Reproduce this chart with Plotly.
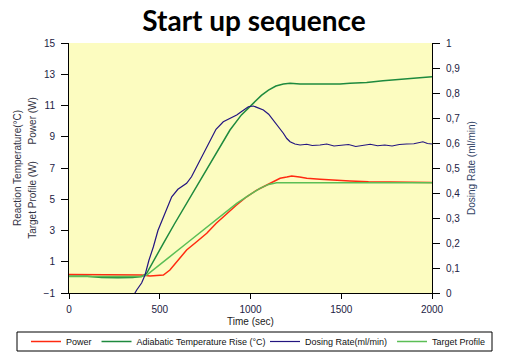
import plotly.graph_objects as go

# ---------------- data ----------------
power_t = [0, 100, 200, 300, 400, 446, 520, 556, 600, 648, 700, 759, 810, 869, 920, 979, 1030, 1071, 1120, 1163, 1200, 1227, 1270, 1310, 1383, 1450, 1548, 1650, 1730, 1850, 2000]
power_v = [0.18, 0.18, 0.17, 0.17, 0.15, 0.09, 0.15, 0.47, 1.05, 1.75, 2.25, 2.82, 3.45, 4.1, 4.6, 5.16, 5.55, 5.8, 6.1, 6.34, 6.42, 6.49, 6.42, 6.34, 6.28, 6.22, 6.17, 6.12, 6.1, 6.08, 6.07]

adiab_t = [0, 100, 180, 270, 350, 400, 428, 470, 520, 580, 648, 700, 759, 820, 887, 950, 1016, 1060, 1099, 1140, 1181, 1218, 1273, 1380, 1493, 1548, 1640, 1730, 1850, 2000]
adiab_v = [0.08, 0.07, 0.0, -0.03, 0.0, 0.05, 0.26, 1.1, 2.18, 3.4, 4.74, 5.75, 6.87, 8.1, 9.43, 10.4, 11.14, 11.65, 11.99, 12.25, 12.38, 12.42, 12.38, 12.36, 12.38, 12.42, 12.48, 12.59, 12.68, 12.84]

dose_t = [340, 373, 400, 419, 440, 465, 490, 520, 545, 566, 600, 648, 675, 704, 740, 777, 810, 850, 890, 924, 955, 988, 1016, 1045, 1071, 1100, 1126, 1155, 1181, 1200, 1218, 1245, 1273, 1310, 1340, 1383, 1420, 1460, 1500, 1540, 1580, 1620, 1660, 1700, 1740, 1780, 1820, 1860, 1900, 1950, 1975, 2000]
dose_v = [-0.03, 0.012, 0.04, 0.072, 0.13, 0.185, 0.25, 0.305, 0.35, 0.385, 0.415, 0.439, 0.465, 0.505, 0.56, 0.612, 0.655, 0.685, 0.7, 0.712, 0.728, 0.745, 0.748, 0.74, 0.732, 0.715, 0.692, 0.665, 0.639, 0.618, 0.605, 0.596, 0.592, 0.595, 0.59, 0.592, 0.596, 0.588, 0.59, 0.594, 0.586, 0.59, 0.595, 0.589, 0.592, 0.588, 0.594, 0.596, 0.597, 0.605, 0.598, 0.596]

target_t = [0, 100, 200, 300, 400, 428, 490, 556, 650, 740, 830, 924, 990, 1052, 1100, 1144, 1180, 1300, 1500, 1700, 2000]
target_v = [0.05, 0.05, 0.05, 0.05, 0.05, 0.15, 0.7, 1.33, 2.2, 3.03, 3.9, 4.74, 5.25, 5.7, 5.95, 6.05, 6.05, 6.05, 6.05, 6.05, 6.05]

x_ticks = [0, 500, 1000, 1500, 2000]
y_ticks = [-1, 1, 3, 5, 7, 9, 11, 13, 15]

# ---------------- figure ----------------
W, H = 516, 358

fig = go.Figure()
fig.add_trace(go.Scatter(x=power_t, y=power_v, name="Power", mode="lines", legend="legend",
                         line=dict(color="#FF2A10", width=1.5)))
fig.add_trace(go.Scatter(x=adiab_t, y=adiab_v, name="Adiabatic Temperature Rise (°C)", mode="lines",
                         legend="legend", line=dict(color="#1E8A3E", width=1.5)))
fig.add_trace(go.Scatter(x=dose_t, y=dose_v, name="Dosing Rate(ml/min)", mode="lines", yaxis="y2",
                         legend="legend2", line=dict(color="#231580", width=1.2)))
fig.add_trace(go.Scatter(x=target_t, y=target_v, name="Target Profile", mode="lines",
                         legend="legend2", line=dict(color="#5BBE55", width=1.5)))

tickfont = dict(family="Liberation Sans, Arial", size=10, color="#222244")
legfont = dict(family="Liberation Sans, Arial", size=9, color="#111")
titlefont = dict(family="Liberation Sans, Arial", size=10, color="#333344")

fig.update_layout(
    width=W, height=H,
    margin=dict(l=69, r=84, t=43, b=65),
    paper_bgcolor="white",
    plot_bgcolor="#FCFCC0",
    separators=",.",
    showlegend=True,
    title=dict(text="<b>Start up sequence</b>", x=254 / W, xref="container", xanchor="center",
               yref="container", y=1 - 21 / H, yanchor="middle",
               font=dict(family="Lato", size=28, color="black")),
    xaxis=dict(range=[0, 2000], tickvals=x_ticks, showgrid=False, zeroline=False, automargin=False,
               showline=True, linecolor="black", linewidth=1,
               ticks="outside", ticklen=5, tickcolor="black", ticklabelstandoff=2,
               tickfont=tickfont,
               title=dict(text="Time (sec)", font=dict(family="Liberation Sans, Arial", size=10, color="#222"),
                          standoff=6)),
    yaxis=dict(range=[-1, 15], tickvals=y_ticks, showgrid=False, zeroline=False, automargin=False,
               showline=True, linecolor="black", linewidth=1,
               ticks="outside", ticklen=7, tickcolor="black", ticklabelstandoff=4,
               tickfont=tickfont,
               title=dict(text="Target Profile (W)      Power (W)", font=titlefont, standoff=5)),
    yaxis2=dict(range=[0, 1], dtick=0.1, tick0=0, overlaying="y", side="right", automargin=False,
                showgrid=False, zeroline=False,
                showline=True, linecolor="black", linewidth=1,
                ticks="outside", ticklen=7, tickcolor="black", ticklabelstandoff=4,
                tickfont=tickfont,
                title=dict(text="Dosing Rate (ml/min)",
                           font=dict(family="Liberation Sans, Arial", size=10, color="#334466"), standoff=8)),
    legend=dict(orientation="h", xref="container", yref="container",
                x=26 / W, xanchor="left", y=(H - 341.5) / H, yanchor="middle",
                borderwidth=0, bgcolor="rgba(0,0,0,0)",
                font=legfont, itemwidth=30, tracegroupgap=0),
    legend2=dict(orientation="h", xref="container", yref="container",
                 x=265 / W, xanchor="left", y=(H - 341.5) / H, yanchor="middle",
                 borderwidth=0, bgcolor="rgba(0,0,0,0)",
                 font=legfont, itemwidth=30, tracegroupgap=0),
    annotations=[dict(text="Reaction Temperature(°C)", xref="paper", yref="paper",
                      x=(17 - 69) / 363, y=0.5, textangle=-90, showarrow=False,
                      xanchor="center", yanchor="middle", font=titlefont)],
    shapes=[dict(type="rect", xref="paper", yref="paper",
                 x0=(17 - 69) / 363, x1=(492 - 69) / 363,
                 y0=(293 - 351) / 250, y1=(293 - 332) / 250,
                 line=dict(color="black", width=1), fillcolor="rgba(0,0,0,0)", layer="below")],
)

# remove the default page margin so the figure fills the window exactly
fig.write_html("out.html", config={"displayModeBar": False},
               post_script="document.body.style.margin='0';")
